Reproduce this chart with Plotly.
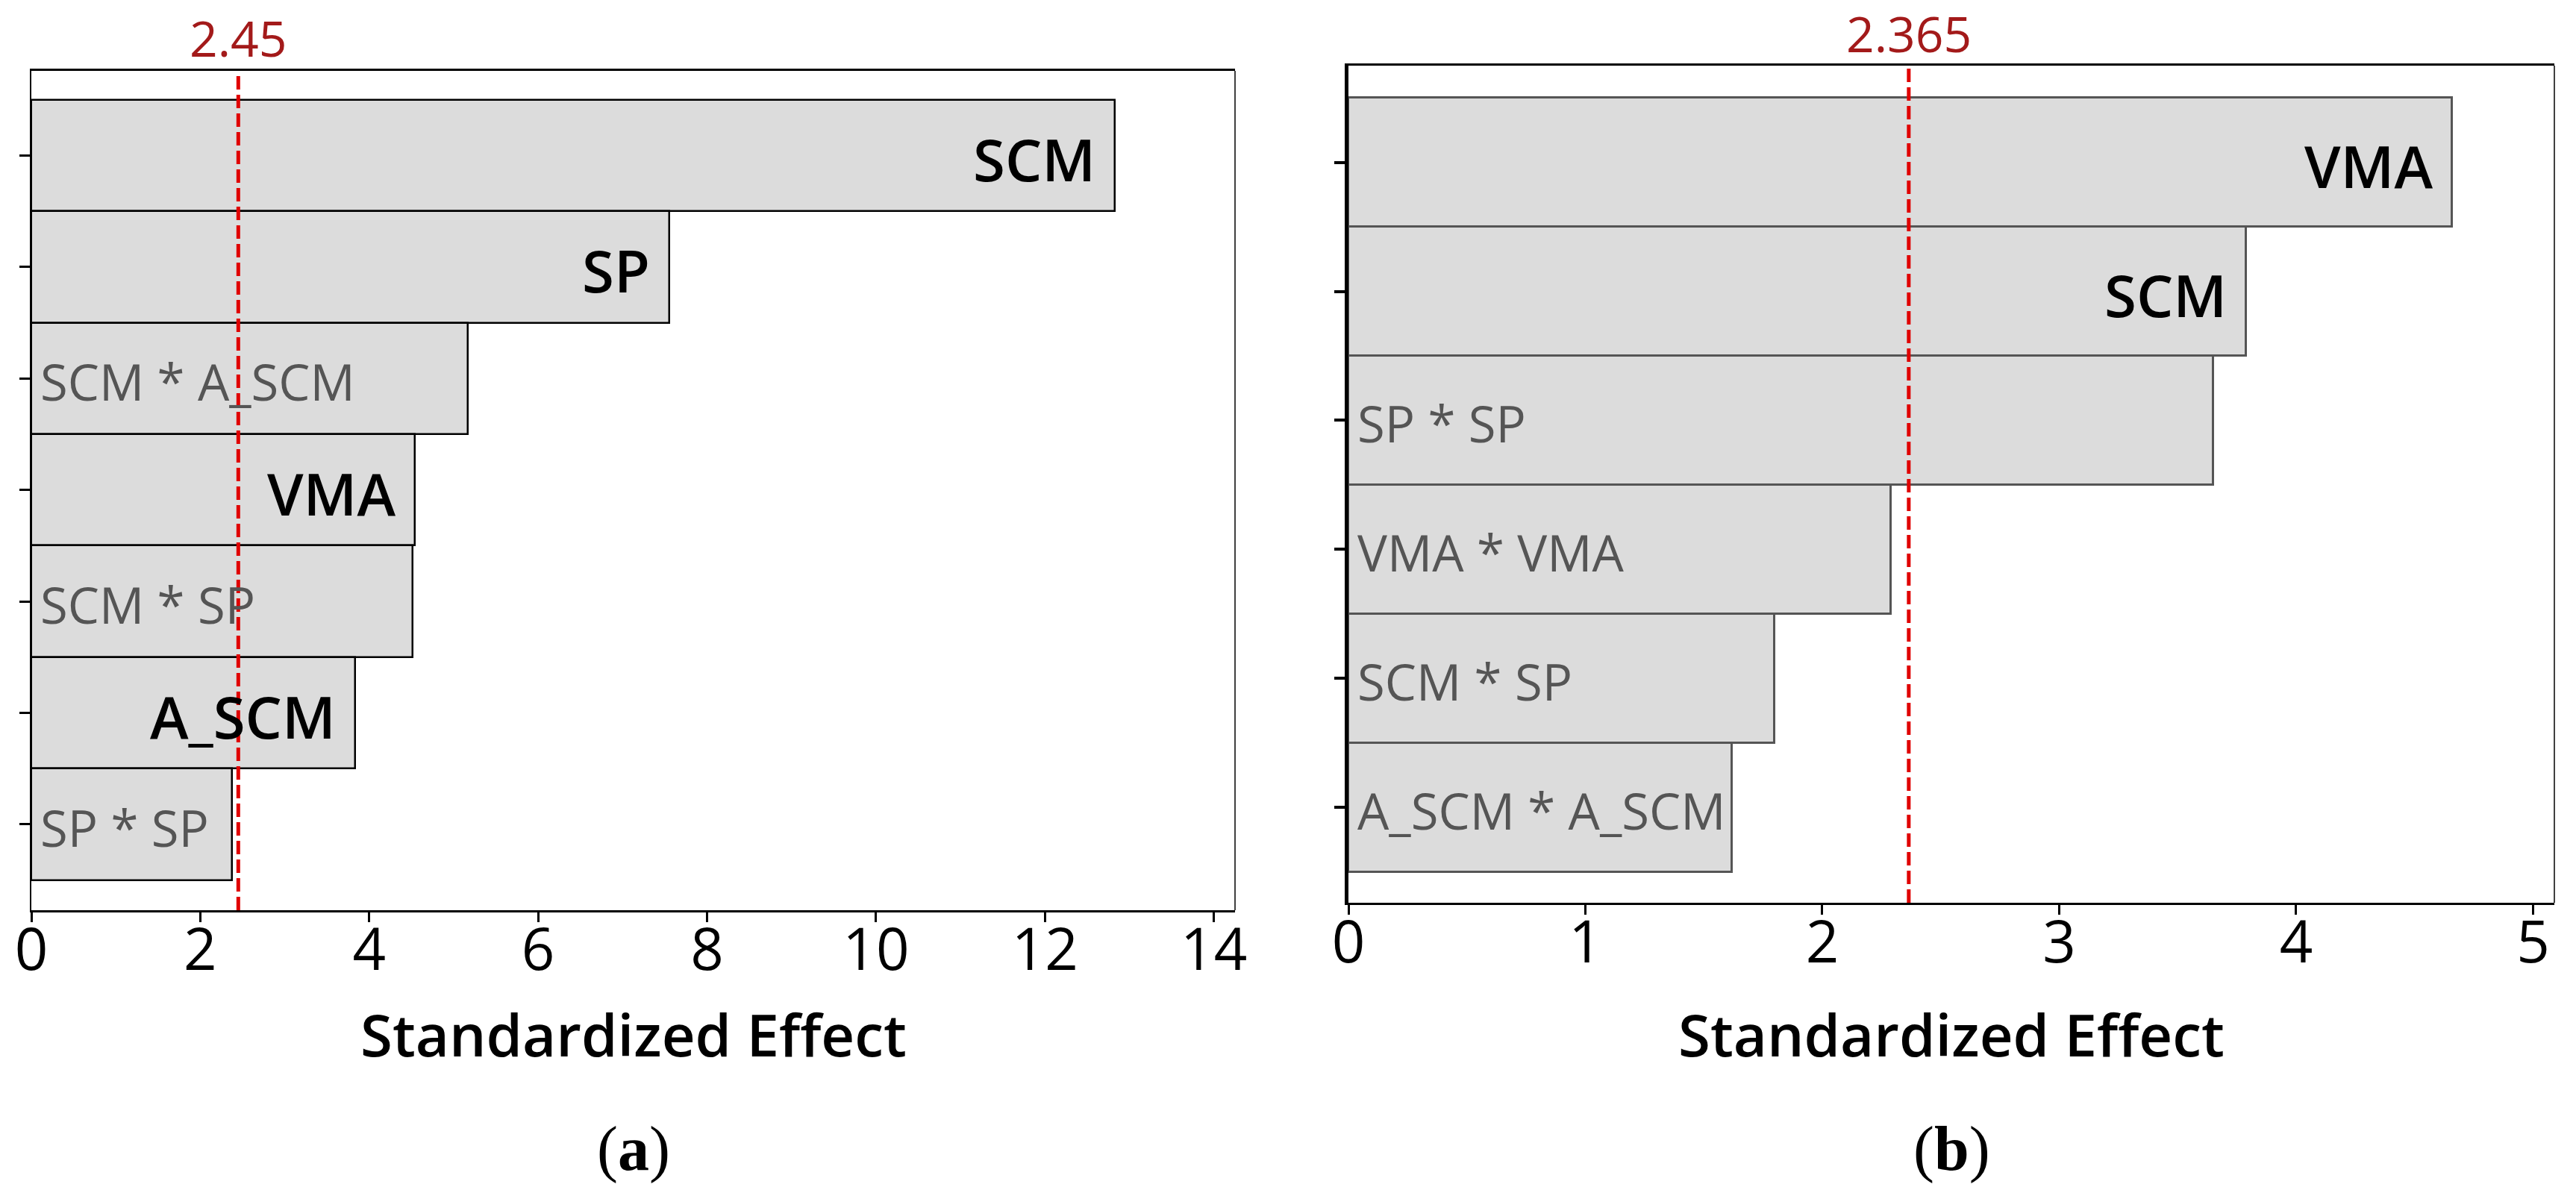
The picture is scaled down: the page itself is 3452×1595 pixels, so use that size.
import plotly.graph_objects as go

# ---------------- data ----------------
terms_a = ["SCM", "SP", "SCM * A_SCM", "VMA", "SCM * SP", "A_SCM", "SP * SP"]
effects_a = [12.83, 7.55, 5.17, 4.54, 4.51, 3.83, 2.38]
crit_a = 2.45
xticks_a = [0, 2, 4, 6, 8, 10, 12, 14]

terms_b = ["VMA", "SCM", "SP * SP", "VMA * VMA", "SCM * SP", "A_SCM * A_SCM"]
effects_b = [4.66, 3.79, 3.65, 2.29, 1.80, 1.62]
crit_b = 2.365
xticks_b = [0, 1, 2, 3, 4, 5]

x_title = "Standardized Effect"
captions = ["(<b>a</b>)", "(<b>b</b>)"]

# ---------------- layout constants ----------------
W, H = 3452, 1595
FONT = "Open Sans, Noto Sans, DejaVu Sans, sans-serif"
BAR_FILL = "#DCDCDC"

def px_x(p):
    return p / W

def px_y(p):
    return (H - p) / H

panels = [
    dict(terms=terms_a, effects=effects_a, crit=crit_a, ticks=xticks_a,
         xmax=14.25, xd=[px_x(42), px_x(1655)], yd=[px_y(1220), px_y(95)],
         pad_top=0.26, pad_bot=0.27, edge="black", edge_w=2.5,
         ylw=1.5, crit_y=px_y(50), cap=captions[0], xs="x", ys="y"),
    dict(terms=terms_b, effects=effects_b, crit=crit_b, ticks=xticks_b,
         xmax=5.09, xd=[px_x(1807), px_x(3423)], yd=[px_y(1210), px_y(88)],
         pad_top=0.25, pad_bot=0.24, edge="#555555", edge_w=3,
         ylw=5, crit_y=px_y(44), cap=captions[1], xs="x2", ys="y2"),
]

fig = go.Figure()
annotations = []
shapes = []

for i, p in enumerate(panels):
    n = len(p["terms"])
    pos = list(range(n))
    fig.add_trace(go.Bar(
        x=p["effects"], y=pos, orientation="h", width=1.0,
        marker=dict(color=BAR_FILL, line=dict(color=p["edge"], width=p["edge_w"])),
        xaxis=p["xs"], yaxis=p["ys"], showlegend=False, hoverinfo="x+text",
        hovertext=p["terms"],
    ))
    ax_suffix = "" if i == 0 else "2"
    fig.update_layout(**{
        "xaxis" + ax_suffix: dict(
            domain=p["xd"], range=[0, p["xmax"]], anchor=p["ys"],
            tickvals=p["ticks"], ticktext=[str(t) for t in p["ticks"]],
            ticks="outside", ticklen=13, tickwidth=3, tickcolor="black",
            showline=True, linecolor="black", linewidth=3, mirror=True,
            showgrid=False, zeroline=False, automargin=False,
            ticklabelstandoff=-30,
            tickfont=dict(family=FONT, size=78, color="black"),
        ),
        "yaxis" + ax_suffix: dict(
            domain=p["yd"], anchor=p["xs"],
            range=[n - 0.5 + p["pad_bot"], -0.5 - p["pad_top"]],
            tickvals=pos, showticklabels=False,
            ticks="outside", ticklen=14, tickwidth=4 if i else 3, tickcolor="black",
            showline=True, linecolor="black", linewidth=p["ylw"], mirror=False,
            showgrid=False, zeroline=False, automargin=False, layer="above traces",
        ),
    })
    # right frame edge (thin)
    shapes.append(dict(type="line", xref=p["xs"] + " domain", yref=p["ys"] + " domain",
                       x0=1, x1=1, y0=0, y1=1, line=dict(color="black", width=1.5)))
    # critical value line
    shapes.append(dict(type="line", xref=p["xs"], yref=p["ys"] + " domain",
                       x0=p["crit"], x1=p["crit"], y0=0, y1=1,
                       line=dict(color="#E00000", width=5, dash="18px,7px")))
    annotations.append(dict(xref=p["xs"], yref="paper", x=p["crit"], y=p["crit_y"],
                            text=str(p["crit"]), showarrow=False, xanchor="center",
                            yanchor="middle",
                            font=dict(family=FONT, size=66, color="#A31A1A")))
    # bar labels
    for t, v, y in zip(p["terms"], p["effects"], pos):
        if "*" in t:
            annotations.append(dict(xref=p["xs"], yref=p["ys"], x=0, y=y, text=t,
                                    showarrow=False, xanchor="left", yanchor="middle",
                                    xshift=10, yshift=-4,
                                    font=dict(family=FONT, size=67, color="#555555")))
        else:
            annotations.append(dict(xref=p["xs"], yref=p["ys"], x=v, y=y, text=t,
                                    showarrow=False, xanchor="right", yanchor="middle",
                                    xshift=-24, yshift=-4,
                                    font=dict(family=FONT, size=78, color="black",
                                              weight=600)))
    xc = (p["xd"][0] + p["xd"][1]) / 2
    annotations.append(dict(xref="paper", yref="paper", x=xc, y=px_y(1386),
                            text=x_title,
                            showarrow=False, xanchor="center", yanchor="middle",
                            font=dict(family=FONT, size=78, color="black", weight=600)))
    annotations.append(dict(xref="paper", yref="paper", x=xc, y=px_y(1540),
                            text=p["cap"], showarrow=False, xanchor="center",
                            yanchor="middle",
                            font=dict(family="Liberation Serif, Times New Roman, serif",
                                      size=84, color="black")))

fig.update_layout(
    width=W, height=H, autosize=False,
    margin=dict(l=0, r=0, t=0, b=0, autoexpand=False),
    paper_bgcolor="white", plot_bgcolor="white",
    bargap=0, annotations=annotations, shapes=shapes,
)

fig.write_html("out.html",
               config={"displayModeBar": False},
               post_script="document.body.style.margin='0';document.body.style.overflow='hidden';")
